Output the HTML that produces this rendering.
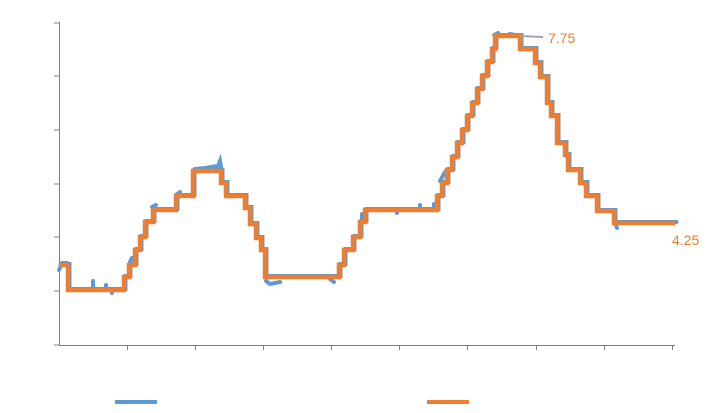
<!DOCTYPE html>
<html><head><meta charset="utf-8"><style>body{margin:0;background:#fff}svg{display:block}</style></head><body>
<svg width="708" height="413" xmlns="http://www.w3.org/2000/svg" font-family="Liberation Sans, sans-serif">
<defs>
<polyline id="st" fill="none" points="59,265 68,265 68,290 124,290 124,277 129,277 129,265 135,265 135,250 140,250 140,237 145,237 145,222 153,222 153,210 176,210 176,196 193,196 193,171 221,171 221,183 226,183 226,196 245,196 245,208 250,208 250,224 256,224 256,238 261,238 261,250 265,250 265,277 339,277 339,265 344,265 344,250 353,250 353,237 360,237 360,222 365,222 365,210 437,210 437,196 442,196 442,183 447,183 447,170 452,170 452,157 457,157 457,143 462,143 462,130 467,130 467,116 472,116 472,103 477,103 477,89 482,89 482,76 487,76 487,62 492,62 492,49 495,49 495,36 520,36 520,49 535,49 535,63 540,63 540,77 547,77 547,103 551,103 551,116 557,116 557,143 565,143 565,155 568,155 568,170 580,170 580,183 586,183 586,196 597,196 597,211 614,211 614,223 675,223"/>
</defs>
<g stroke="#7f7f7f" stroke-width="1" fill="none">
<path d="M59.5 22V345.5H675"/>
<path d="M54 23H59M54 76H59M54 130H59M54 184H59M54 237H59M54 291H59M54 345H59"/>
<path d="M127.5 345V350M195.5 345V350M263.5 345V350M331.5 345V350M399.5 345V350M467.5 345V350M536.5 345V350M604.5 345V350M672.5 345V350"/>
</g>
<g stroke="#5b9bd5" stroke-width="4" fill="none" stroke-linecap="round">
<use href="#st" transform="translate(1.5,-1)"/>
<path d="M59 270L62 263 67 263M93 289V281M106 289V285M113 290L112 293M130 262L132 258M152 207L156 205M176 195L180 192M195 169L205 168 218 166 220 161 222 172M266 281L270 284 280 282M330 279L334 282M362 219V214M397 210V213M420 209V205M434 210V204M440 181L445 172M494 35L498 33M510 34L515 35M616 225L617 228"/>
</g>
<use href="#st" stroke="#ed7d31" stroke-width="4.5"/>
<line x1="520" y1="36" x2="543" y2="37" stroke="#a5a5a5" stroke-width="2"/>
<text x="548" y="43" font-size="14" fill="#ed7d31">7.75</text>
<text x="672" y="245" font-size="14" fill="#ed7d31">4.25</text>
<line x1="115" y1="402" x2="157" y2="402" stroke="#5b9bd5" stroke-width="4"/>
<line x1="427" y1="402" x2="469" y2="402" stroke="#ed7d31" stroke-width="4"/>
</svg>
</body></html>
